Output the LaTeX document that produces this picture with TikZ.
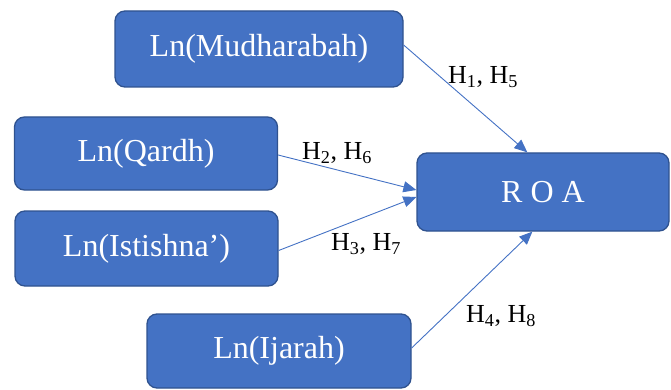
\documentclass[tikz,border=0pt]{standalone}
\usepackage{fontspec}
\setmainfont{Liberation Serif}
\usetikzlibrary{arrows.meta,calc}
\definecolor{boxfill}{HTML}{4472C4}
\definecolor{boxline}{HTML}{2F528F}
\tikzset{
  vbox/.style={draw=boxline, line width=1.3pt, fill=boxfill, rounded corners=10pt,
    text=white, font=\fontsize{32}{36}\selectfont, inner sep=0pt},
  link/.style={draw=boxfill, line width=0.9pt, -{Triangle[length=13pt,width=11pt]}},
  hlab/.style={font=\fontsize{26}{30}\selectfont, text=black, inner sep=0pt}
}
\begin{document}
\begin{tikzpicture}[x=1pt,y=-1pt]
\useasboundingbox (0,0) rectangle (671,390);
\node[vbox, minimum width=288pt, minimum height=76pt] (mud) at (259,49) {Ln(Mudharabah)};
\node[vbox, minimum width=263pt, minimum height=73pt] (qar) at (146,153.5) {Ln(Qardh)};
\node[vbox, minimum width=263pt, minimum height=75pt] (ist) at (146.5,248.5) {Ln(Istishna’)};
\node[vbox, minimum width=264pt, minimum height=74pt] (ija) at (279,351) {Ln(Ijarah)};
\node[vbox, minimum width=252pt, minimum height=78pt] (roa) at (543,192) {R O A};

\draw[link] ($(mud.east)+(0,-4)$) -- ($(roa.north west)+(111,0)$);
\draw[link] ($(qar.east)+(0,1.5)$) -- ($(roa.west)+(0,-2)$);
\draw[link] ($(ist.east)+(0,2)$) -- ($(roa.west)+(0,5)$);
\draw[link] ($(ija.east)+(0,-3)$) -- ($(roa.south west)+(116,0)$);

\node[hlab] (l1) at (483,77) {H\textsubscript{1}, H\textsubscript{5}};
\node[hlab] (l2) at (337,153) {H\textsubscript{2}, H\textsubscript{6}};
\node[hlab] (l3) at (366,244) {H\textsubscript{3}, H\textsubscript{7}};
\node[hlab] (l4) at (501,316) {H\textsubscript{4}, H\textsubscript{8}};
\end{tikzpicture}
\end{document}
